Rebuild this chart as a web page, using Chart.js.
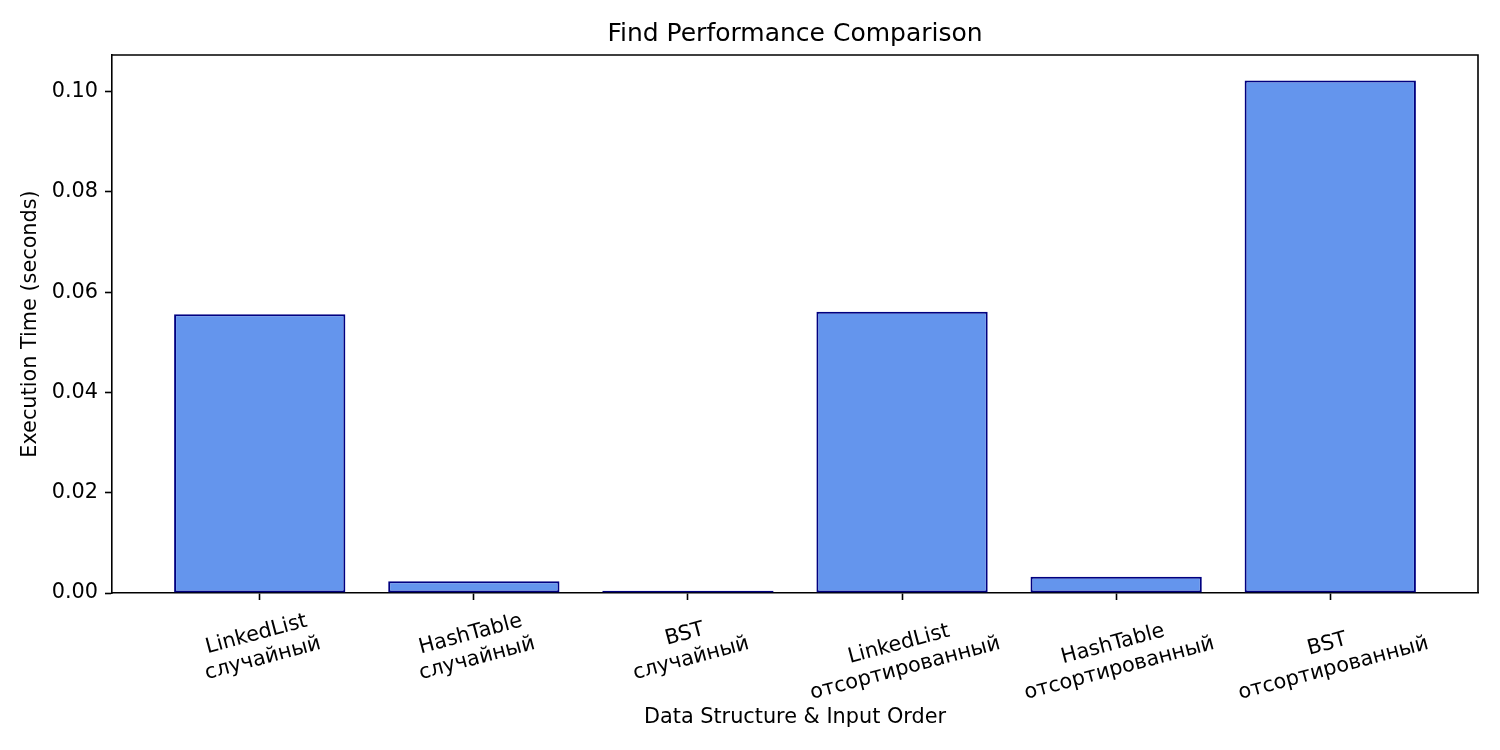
<!DOCTYPE html>
<html>
<head>
<meta charset="utf-8">
<title>Find Performance Comparison</title>
<script src="https://cdn.jsdelivr.net/npm/chart.js@4.4.1/dist/chart.umd.min.js"></script>
<style>
body { margin: 0; background: #fff; }
#wrap { width: 1500px; height: 750px; }
</style>
</head>
<body>
<div id="wrap"><canvas id="canvas" width="1500" height="750"></canvas></div>
<script>
// data
var categories = [
  ["LinkedList", "случайный"],
  ["HashTable", "случайный"],
  ["BST", "случайный"],
  ["LinkedList", "отсортированный"],
  ["HashTable", "отсортированный"],
  ["BST", "отсортированный"]
];
var execTimes = [0.0556, 0.00235, 0.00044, 0.0561, 0.00323, 0.10219];
var yTickValues = [0, 0.02, 0.04, 0.06, 0.08, 0.10];

var chartTitle = "Find Performance Comparison";
var xTitle = "Data Structure & Input Order";
var yTitle = "Execution Time (seconds)";

var font = "DejaVu Sans";

var points = [];
for (var i = 0; i < execTimes.length; i++) {
  points.push({ x: i, y: execTimes[i] });
}

// matplotlib style margins: bars of width 0.8, 5% padding
var xMin = -0.4 - 0.05 * (categories.length - 1 + 0.8);
var xMax = categories.length - 1 + 0.4 + 0.05 * (categories.length - 1 + 0.8);
var yMax = Math.max.apply(null, execTimes) * 1.05;

var textPlugin = {
  id: "mplText",
  afterDraw: function(chart) {
    var ctx = chart.ctx;
    var area = chart.chartArea;
    var xs = chart.scales.x;
    ctx.save();

    // top and right spines
    ctx.strokeStyle = "#000";
    ctx.lineWidth = 1.6;
    ctx.beginPath();
    ctx.moveTo(area.left, area.top);
    ctx.lineTo(area.right, area.top);
    ctx.lineTo(area.right, area.bottom);
    ctx.stroke();

    ctx.fillStyle = "#000";

    // title
    ctx.font = "25px '" + font + "'";
    ctx.textAlign = "center";
    ctx.textBaseline = "middle";
    ctx.fillText(chartTitle, (area.left + area.right) / 2, 34);

    // x tick labels, rotated 15 deg around their centre
    ctx.font = "20.8px '" + font + "'";
    var lineH = 20.8 * 1.2;
    var ang = 15 * Math.PI / 180;
    for (var i = 0; i < categories.length; i++) {
      var lines = categories[i];
      var w = 0;
      for (var j = 0; j < lines.length; j++) {
        w = Math.max(w, ctx.measureText(lines[j]).width);
      }
      var h = lines.length * lineH;
      var bh = w * Math.sin(ang) + h * Math.cos(ang);
      var cx = xs.getPixelForValue(i);
      var cy = area.bottom + 14 + bh / 2;
      ctx.save();
      ctx.translate(cx, cy);
      ctx.rotate(-ang);
      for (var k = 0; k < lines.length; k++) {
        ctx.fillText(lines[k], 0, (k - (lines.length - 1) / 2) * lineH);
      }
      ctx.restore();
    }

    // axis titles
    ctx.fillText(xTitle, (area.left + area.right) / 2, 718);
    ctx.save();
    ctx.translate(31, (area.top + area.bottom) / 2);
    ctx.rotate(-Math.PI / 2);
    ctx.fillText(yTitle, 0, 0);
    ctx.restore();

    ctx.restore();
  }
};

var config = {
  type: "bar",
  data: {
    datasets: [{
      label: "Execution Time",
      data: points,
      backgroundColor: "#6495ED",
      borderColor: "#000080",
      borderWidth: 2,
      borderSkipped: false,
      categoryPercentage: 1.0,
      barPercentage: 0.8
    }]
  },
  options: {
    responsive: false,
    devicePixelRatio: 1,
    animation: false,
    layout: { padding: { left: 0, right: 22, top: 55, bottom: 0 } },
    plugins: {
      legend: { display: false },
      title: { display: false },
      tooltip: { enabled: false }
    },
    scales: {
      x: {
        type: "linear",
        min: xMin,
        max: xMax,
        offset: false,
        border: { display: true, color: "#000", width: 1.6 },
        grid: { display: true, offset: false, drawOnChartArea: false, drawTicks: true, tickLength: 7, tickColor: "#000", tickWidth: 1.6 },
        ticks: { display: false },
        afterBuildTicks: function(scale) {
          scale.ticks = categories.map(function(c, i) { return { value: i }; });
        },
        afterFit: function(scale) { scale.height = 157; }
      },
      y: {
        min: 0,
        max: yMax,
        border: { display: true, color: "#000", width: 1.6 },
        grid: { display: true, drawOnChartArea: false, drawTicks: true, tickLength: 7, tickColor: "#000", tickWidth: 1.6 },
        ticks: {
          color: "#000",
          padding: 7,
          font: { family: font, size: 20.8 },
          callback: function(v) { return v.toFixed(2); }
        },
        afterBuildTicks: function(scale) {
          scale.ticks = yTickValues.map(function(v) { return { value: v }; });
        },
        afterFit: function(scale) { scale.width = 112; }
      }
    }
  },
  plugins: [textPlugin]
};

new Chart(document.getElementById("canvas"), config);
</script>
</body>
</html>
